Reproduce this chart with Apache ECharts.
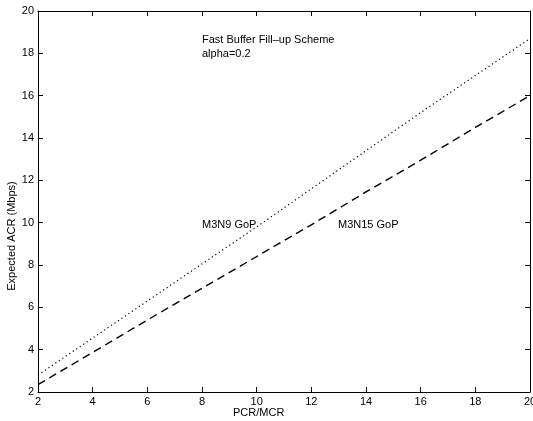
<!DOCTYPE html>
<html><head><meta charset="utf-8">
<script src="https://cdn.jsdelivr.net/npm/echarts@6/dist/echarts.min.js"></script>
<style>html,body{margin:0;padding:0;background:#fff}#c{width:533px;height:421px}</style>
</head><body><div id="c"></div>
<script>
const xValues = [2, 4, 6, 8, 10, 12, 14, 16, 18, 20];
const m3n9 = [2.8, 4.55, 6.3, 8.05, 9.8, 11.6, 13.4, 15.2, 16.95, 18.7];
const m3n15 = [2.35, 3.87, 5.4, 6.9, 8.4, 9.9, 11.45, 12.95, 14.5, 16.0];
const xTicks = [2, 4, 6, 8, 10, 12, 14, 16, 18, 20];
const yTicks = [2, 4, 6, 8, 10, 12, 14, 16, 18, 20];
const FONT = 'Liberation Sans, Arial, sans-serif';

const chart = echarts.init(document.getElementById('c'), null, {renderer: 'canvas'});
const axisCommon = {
  type: 'value', min: 2, max: 20, interval: 2,
  axisLine: {show: true, lineStyle: {color: '#000', width: 1}},
  axisTick: {show: true, inside: true, length: 5, lineStyle: {color: '#000'}},
  splitLine: {show: false}
};
const lbl = {color: '#000', fontFamily: FONT, fontSize: 11};
chart.setOption({
  animation: false,
  backgroundColor: '#fff',
  grid: {left: 38, right: 3, top: 11, bottom: 29, containLabel: false, outerBoundsMode: 'none'},
  xAxis: [
    Object.assign({}, axisCommon, {position: 'bottom', axisLabel: Object.assign({margin: 4}, lbl)}),
    Object.assign({}, axisCommon, {position: 'top', axisLabel: {show: false}})
  ],
  yAxis: [
    Object.assign({}, axisCommon, {position: 'left', axisLabel: Object.assign({margin: 4}, lbl)}),
    Object.assign({}, axisCommon, {position: 'right', axisLabel: {show: false}})
  ],
  series: [
    {name: 'M3N9 GoP', type: 'line', symbol: 'none', data: xValues.map((x, i) => [x, m3n9[i]]),
     lineStyle: {color: '#000', width: 1.2, type: [1.2, 3]}},
    {name: 'M3N15 GoP', type: 'line', symbol: 'none', data: xValues.map((x, i) => [x, m3n15[i]]),
     lineStyle: {color: '#000', width: 1.4, type: [8, 5]}}
  ],
  graphic: [
    {type: 'text', left: 202, top: 34, style: {text: 'Fast Buffer Fill\u2013up Scheme', font: '11px ' + FONT, fill: '#000'}},
    {type: 'text', left: 202, top: 48, style: {text: 'alpha=0.2', font: '11px ' + FONT, fill: '#000'}},
    {type: 'text', left: 202, top: 219, style: {text: 'M3N9 GoP', font: '11px ' + FONT, fill: '#000'}},
    {type: 'text', left: 338, top: 219, style: {text: 'M3N15 GoP', font: '11px ' + FONT, fill: '#000'}},
    {type: 'text', left: 233, top: 407, style: {text: 'PCR/MCR', font: '11px ' + FONT, fill: '#000'}},
    {type: 'text', x: 12, y: 236, rotation: Math.PI / 2,
     style: {text: 'Expected ACR (Mbps)', font: '11px ' + FONT, fill: '#000', align: 'center', verticalAlign: 'middle'}}
  ]
});
</script></body></html>
